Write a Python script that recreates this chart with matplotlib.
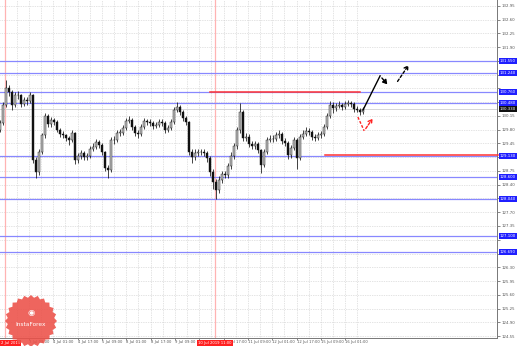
import numpy as np
import matplotlib
matplotlib.use("Agg")
import matplotlib.pyplot as plt
from matplotlib.patches import Polygon
from matplotlib.transforms import blended_transform_factory

# candles (one bar per ~3 px of the picture), open = previous close
first_open = 129.80
closes = [129.97, 130.43, 130.86, 130.76, 130.43, 130.68, 130.68, 130.45, 130.56, 130.53,
          130.68, 129.03, 128.72, 129.23, 129.66, 130.15, 129.94, 130.05, 129.99, 129.79,
          129.69, 129.66, 129.59, 129.54, 129.72, 129.03, 129.13, 129.21, 129.10, 129.13,
          129.31, 129.36, 129.49, 129.41, 129.23, 128.82, 128.77, 129.54, 129.54, 129.72,
          129.72, 129.84, 130.02, 130.05, 129.87, 129.72, 129.69, 129.87, 130.02, 129.99,
          129.97, 129.89, 129.92, 129.99, 129.97, 129.79, 129.84, 129.99, 130.30, 130.38,
          130.25, 130.10, 129.99, 129.23, 129.10, 129.21, 129.23, 129.23, 129.21, 129.08,
          128.72, 128.47, 128.26, 128.52, 128.67, 128.64, 128.87, 129.13, 129.38, 129.79,
          130.25, 129.59, 129.61, 129.43, 129.38, 129.43, 129.28, 128.90, 129.23, 129.54,
          129.56, 129.56, 129.66, 129.69, 129.51, 129.46, 129.15, 129.33, 129.54, 129.08,
          129.61, 129.69, 129.77, 129.74, 129.61, 129.59, 129.66, 129.69, 129.87, 130.15,
          130.43, 130.35, 130.40, 130.43, 130.38, 130.45, 130.48, 130.45, 130.33, 130.30,
          130.25, 130.33]
highs = [130.05, 130.50, 131.06, 130.95, 130.82, 130.75, 130.78, 130.72, 130.64, 130.62,
         130.76, 130.70, 129.10, 129.30, 129.72, 130.22, 130.20, 130.12, 130.10, 130.04,
         129.85, 129.76, 129.70, 129.64, 129.80, 129.75, 129.20, 129.28, 129.26, 129.20,
         129.38, 129.45, 129.56, 129.54, 129.46, 129.26, 128.90, 129.62, 129.64, 129.80,
         129.82, 129.92, 130.10, 130.15, 130.10, 129.92, 129.80, 129.94, 130.10, 130.08,
         130.06, 130.02, 130.00, 130.08, 130.06, 130.02, 129.92, 130.06, 130.38, 130.50,
         130.44, 130.30, 130.14, 130.02, 129.30, 129.30, 129.32, 129.32, 129.30, 129.26,
         129.12, 128.80, 128.55, 128.62, 128.76, 128.75, 128.95, 129.22, 129.46, 129.88,
         130.48, 130.30, 129.72, 129.68, 129.50, 129.52, 129.48, 129.32, 129.30, 129.62,
         129.66, 129.66, 129.74, 129.80, 129.74, 129.58, 129.50, 129.42, 129.62, 129.58,
         129.68, 129.78, 129.86, 129.84, 129.78, 129.68, 129.74, 129.76, 129.94, 130.22,
         130.52, 130.50, 130.48, 130.52, 130.48, 130.54, 130.56, 130.54, 130.50, 130.40,
         130.36, 130.38]
lows = [129.74, 129.92, 130.38, 130.66, 130.30, 130.38, 130.58, 130.38, 130.40, 130.44,
        130.48, 128.95, 128.58, 128.66, 129.18, 129.60, 129.86, 129.88, 129.92, 129.74,
        129.62, 129.58, 129.52, 129.40, 129.48, 128.93, 128.96, 129.06, 129.02, 129.04,
        129.08, 129.26, 129.30, 129.34, 129.16, 128.74, 128.57, 128.72, 129.44, 129.48,
        129.64, 129.66, 129.78, 129.96, 129.80, 129.64, 129.60, 129.64, 129.82, 129.92,
        129.90, 129.82, 129.84, 129.88, 129.90, 129.72, 129.74, 129.80, 129.94, 130.24,
        130.18, 130.02, 129.92, 129.15, 128.96, 129.04, 129.14, 129.16, 129.12, 128.98,
        128.62, 128.30, 128.04, 128.20, 128.44, 128.56, 128.58, 128.80, 129.06, 129.32,
        129.72, 129.50, 129.52, 129.36, 129.30, 129.32, 129.20, 128.70, 128.84, 129.18,
        129.48, 129.48, 129.50, 129.60, 129.44, 129.38, 129.06, 129.08, 129.28, 128.80,
        129.02, 129.56, 129.64, 129.66, 129.54, 129.50, 129.54, 129.60, 129.64, 129.82,
        130.10, 130.22, 130.28, 130.34, 130.30, 130.32, 130.40, 130.38, 130.26, 130.24,
        130.18, 130.20]

price_ticks = [124.55 + 0.35 * k for k in range(25)]
blue_levels = [131.55, 131.24, 130.76, 130.48, 129.13, 128.60, 128.04, 127.10, 126.69]
red_levels = [(130.76, 70.0, 120.0), (129.16, 108.3, 166.0)]
vlines_red = [1.7, 71.7]
vline_labels = ["2 Jul 2019", "10 Jul 2019 11:00"]

time_pos = [9.7, 17.7, 26.0, 34.0, 42.0, 50.3, 58.3, 66.3, 74.7, 82.7, 90.7, 99.0, 107.0, 115.0]
time_labels = ["3 Jul 09:00", "4 Jul 01:00", "4 Jul 17:00", "5 Jul 09:00", "8 Jul 01:00",
               "8 Jul 17:00", "9 Jul 09:00", "10 Jul 01:00", "10 Jul 17:00", "11 Jul 09:00",
               "12 Jul 01:00", "12 Jul 17:00", "15 Jul 09:00", "16 Jul 01:00"]

# forecast sketch (bar, price)
path_main = [(121, 130.30), (126.7, 131.17), (129.7, 130.90)]
path_dash = [(132.0, 130.97), (136.7, 131.50)]
path_red = [(119.3, 130.12), (121.4, 129.77), (124.7, 130.14)]

W, H = 518, 346
fig = plt.figure(figsize=(W / 100, H / 100), dpi=100)
ax = fig.add_axes([0, 8 / H, 497 / W, 1 - 8 / H])
ax.set_xlim(0, 497 / 3)
ax.set_ylim(124.50, 133.10)

# hide price labels hidden under the level boxes
shown = []
for p in price_ticks:
    near = any(abs(p - lv) < 0.13 for lv in blue_levels + [closes[-1]])
    shown.append("" if near else "%.2f" % p)

ax.set_yticks(price_ticks)
ax.set_yticklabels(shown)
ax.set_xticks(time_pos)
ax.set_xticklabels(time_labels)
ax.set_xticks([p + 4.05 for p in time_pos] + [time_pos[0] - 4.05], minor=True)
ax.grid(True, which="both", color="#c8c8c8", ls=(0, (1, 1.5)), lw=0.5)
ax.set_axisbelow(True)
ax.yaxis.tick_right()
ax.tick_params(axis="y", which="both", length=2, width=0.5, pad=1, labelsize=2.8,
               colors="#555555")
ax.tick_params(axis="x", which="major", length=1.5, width=0.5, pad=0.3, labelsize=2.7,
               colors="#555555")
ax.tick_params(axis="x", which="minor", length=0)
for lab in ax.get_xticklabels():
    lab.set_ha("left")
for s in ["top", "left"]:
    ax.spines[s].set_visible(False)
for s in ["right", "bottom"]:
    ax.spines[s].set_color("#777777")
    ax.spines[s].set_linewidth(0.7)

# vertical red lines
for xv in vlines_red:
    ax.axvline(xv, color="#ffb3b3", lw=0.9, zorder=1)

# levels
for lv in blue_levels:
    ax.axhline(lv, color="#8888ff", lw=0.9, zorder=2)
for lv, x0, x1 in red_levels:
    ax.plot([x0, x1], [lv, lv], color="#ff3333", lw=1.1, zorder=3, clip_on=False)
ax.axhline(closes[-1], color="#d0d0d0", lw=0.6, zorder=1)

# candles
opens = [first_open] + closes[:-1]
idx = np.arange(len(closes))
ax.vlines(idx, lows, highs, color="#111111", lw=0.55, zorder=4)
for i, (o, c) in enumerate(zip(opens, closes)):
    up = c >= o
    ax.bar(i, max(abs(c - o), 0.01), bottom=min(o, c), width=0.65,
           color="#bdbdbd" if up else "#111111", edgecolor="#111111", lw=0.3, zorder=5)

# forecast arrows
xs, ys = zip(*path_main)
ax.plot(xs[:2], ys[:2], color="black", lw=1.0, zorder=6)
ax.annotate("", xy=path_main[2], xytext=path_main[1],
            arrowprops=dict(arrowstyle="-|>,head_length=0.25,head_width=0.15",
                            color="black", lw=1.0), zorder=6)
ax.annotate("", xy=path_dash[1], xytext=path_dash[0],
            arrowprops=dict(arrowstyle="->,head_length=0.25,head_width=0.15",
                            color="black", lw=1.0, ls=(0, (2, 1.5))), zorder=6)
ax.plot([path_red[0][0], path_red[1][0]], [path_red[0][1], path_red[1][1]],
        color="#ff2222", lw=1.0, ls=(0, (2, 1.2)), zorder=6)
ax.annotate("", xy=path_red[2], xytext=path_red[1],
            arrowprops=dict(arrowstyle="->,head_length=0.25,head_width=0.15",
                            color="#ff2222", lw=1.0, ls=(0, (2, 1.2))), zorder=6)

# right-axis level labels
tr = blended_transform_factory(ax.transAxes, ax.transData)
for lv in blue_levels:
    ax.text(1.006, lv, "%.3f" % lv, transform=tr, ha="left", va="center", fontsize=2.8,
            color="white", clip_on=False, zorder=10,
            bbox=dict(boxstyle="square,pad=0.25", fc="#1f1fff", ec="none"))
ax.text(1.006, closes[-1], "%.3f" % closes[-1], transform=tr, ha="left", va="center",
        fontsize=2.8, color="white", clip_on=False, zorder=11,
        bbox=dict(boxstyle="square,pad=0.25", fc="#111111", ec="none"))

# red time labels of the vertical lines
tb = blended_transform_factory(ax.transData, ax.transAxes)
ax.text(0.3, -0.008, vline_labels[0], transform=tb, ha="left", va="top", fontsize=2.7,
        color="white", clip_on=False, zorder=11,
        bbox=dict(boxstyle="square,pad=0.3", fc="#ff2020", ec="none"))
ax.text(vlines_red[1], -0.008, vline_labels[1], transform=tb, ha="center", va="top",
        fontsize=2.7, color="white", clip_on=False, zorder=11,
        bbox=dict(boxstyle="square,pad=0.3", fc="#ff2020", ec="none"))

# InstaForex badge
cx, cy, r = 31 / W, 1 - 321 / H, 26
ang = np.linspace(0, 2 * np.pi, 49)[:-1]
rad = np.where(np.arange(48) % 2 == 0, r, r * 0.9)
pts = np.column_stack([cx + rad * np.cos(ang) / W, cy + rad * np.sin(ang) / H])
fig.add_artist(Polygon(pts, closed=True, fc="#ec5048", ec="none", alpha=0.88,
                       transform=fig.transFigure, zorder=20))
fig.text(cx, cy + 9 / H, "\u25C9", color="white", ha="center", va="center", fontsize=6,
         zorder=21)
fig.text(cx, cy - 3 / H, "InstaForex", color="white", ha="center", va="center",
         fontsize=4.2, zorder=21)

fig.savefig("out.png", dpi=100)
